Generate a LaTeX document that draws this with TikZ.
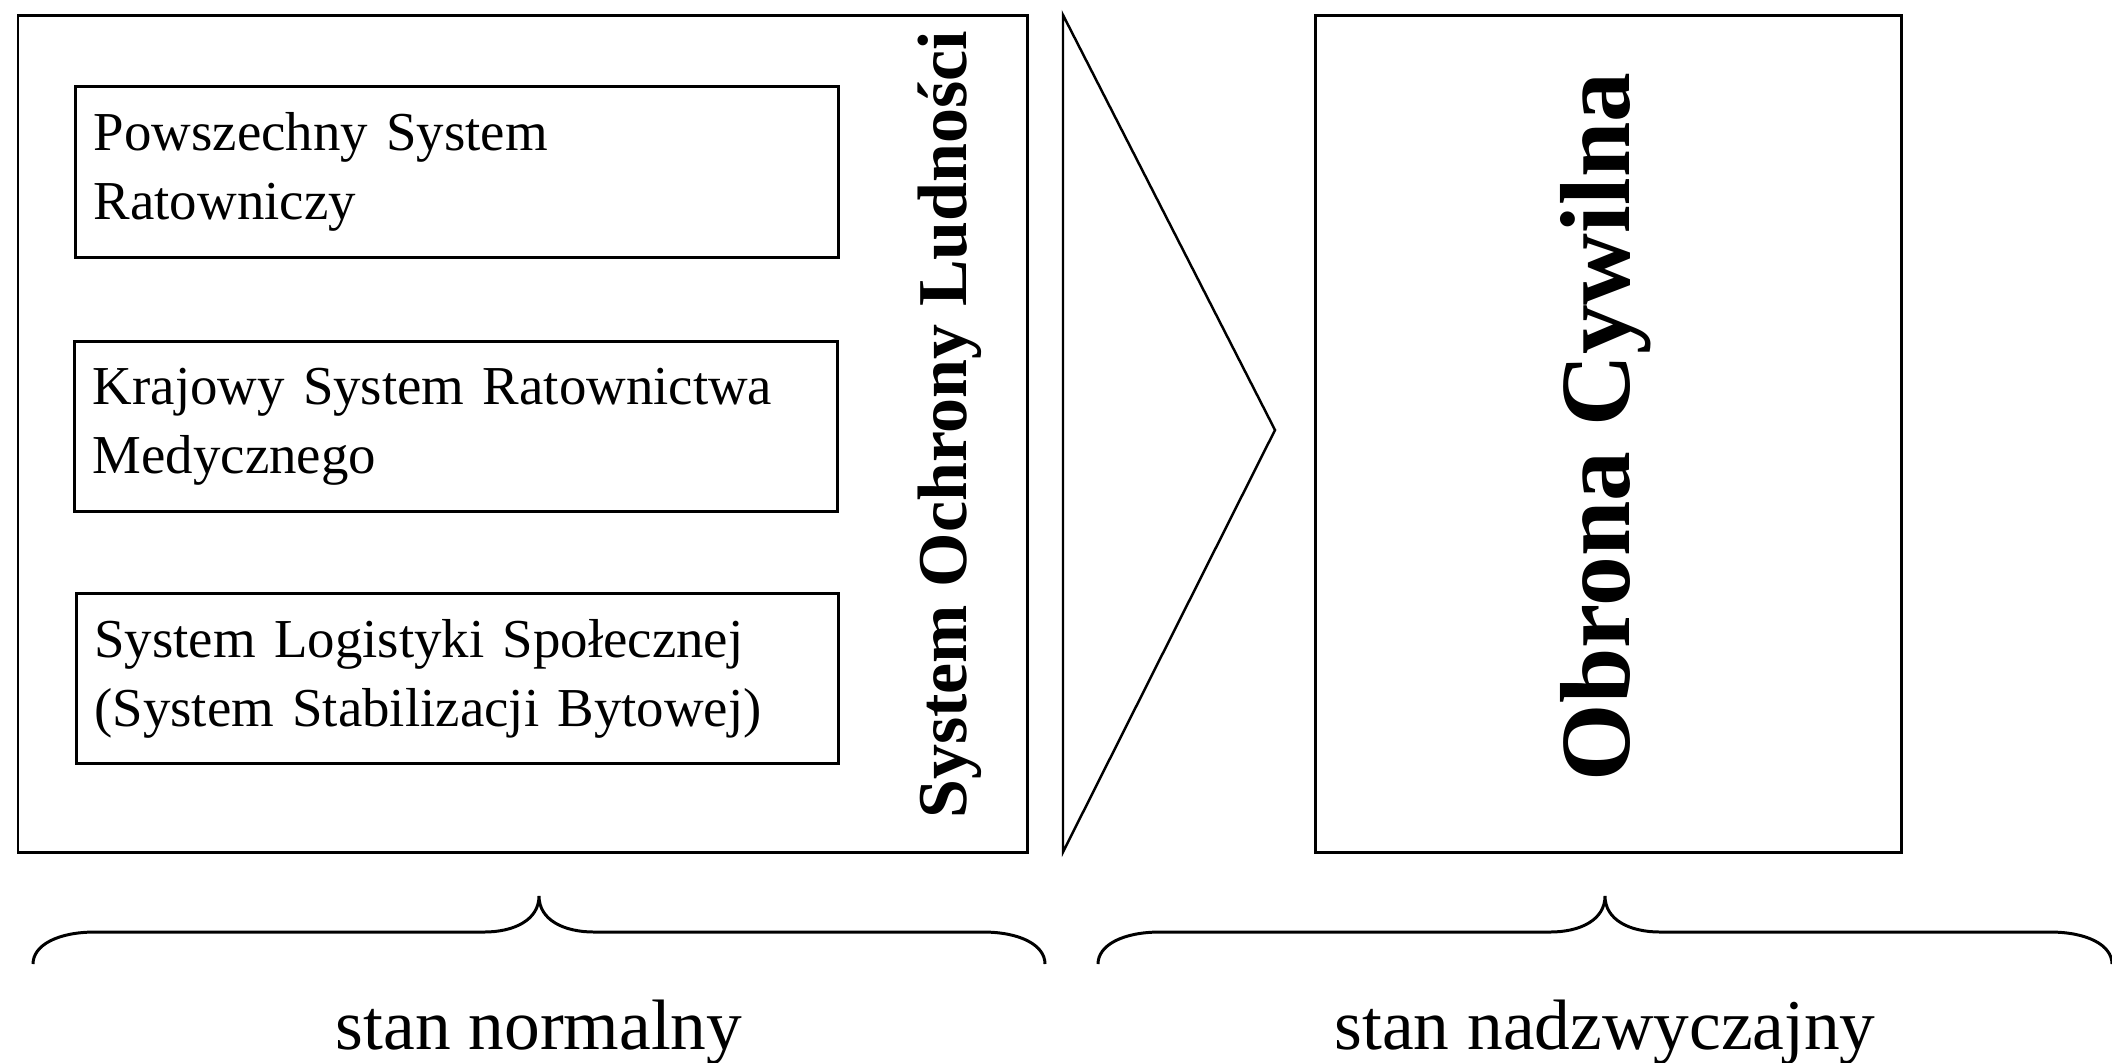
\documentclass[tikz,border=0pt]{standalone}
\usepackage{fontspec}
\setmainfont{Liberation Serif}

\begin{document}
\begin{tikzpicture}[x=0.01cm,y=-0.01cm,
  ramka/.style={draw,line width=0.85pt},
  podsystem/.style={draw,line width=0.85pt,text width=7.26cm,align=left,
    inner xsep=0.18cm,minimum height=1.7cm,font=\fontsize{15.6}{19.6}\selectfont},
  pionowy/.style={rotate=90,anchor=base,font=\bfseries\fontsize{#1}{#1}\selectfont},
  klamra/.style={line width=0.85pt},
  stan/.style={anchor=base,font=\fontsize{20.3}{24}\selectfont}]

\useasboundingbox (0,0) rectangle (2112,1062);
\clip (0,0) rectangle (2112,1062);

% system ochrony ludnosci
\draw[ramka] (18,15) rectangle (1027,852);
\node[podsystem] (psr) at (457,172) {Powszechny System\\Ratowniczy};
\node[podsystem] (ksrm) at (456,426.5) {Krajowy System Ratownictwa\\Medycznego};
\node[podsystem] (slsp) at (457.5,678.5) {System Logistyki Społecznej\\(System Stabilizacji Bytowej)};
\node[pionowy=19.9] (sol) at (966,424.5) {System Ochrony Ludności};

% strzalka
\coordinate (a) at (1063,15);
\coordinate (b) at (1275,430);
\coordinate (c) at (1063,852);
\draw[line width=0.7pt] (a) -- (b) -- (c) -- cycle;

% obrona cywilna
\draw[ramka] (1315,15) rectangle (1901,852);
\node[pionowy=28.3] (oc) at (1629,427) {Obrona Cywilna};

% klamry
\foreach \l/\p/\nazwa/\tekst in {33/1045/normalny/stan normalny, 1098/2112/nadzwyczajny/stan nadzwyczajny}{
  \pgfmathsetmacro{\m}{(\l+\p)/2}
  \draw[klamra] (\l,964) .. controls (\l,945) and (\l+25,932) .. (\l+62,932)
    -- (\m-55,932) .. controls (\m-25,932) and (\m,920) .. (\m,896)
    .. controls (\m,920) and (\m+25,932) .. (\m+55,932)
    -- (\p-62,932) .. controls (\p-25,932) and (\p,945) .. (\p,964);
  \node[stan] (\nazwa) at (\m,1049) {\tekst};
}

\end{tikzpicture}
\end{document}
